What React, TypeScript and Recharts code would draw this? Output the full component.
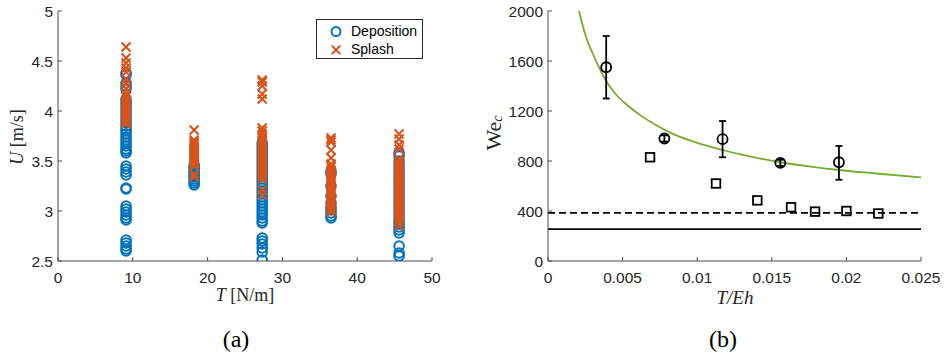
import React from "react";
import {
  ScatterChart,
  ComposedChart,
  Scatter,
  Line,
  XAxis,
  YAxis,
  ReferenceLine,
  ErrorBar,
  Legend,
} from "recharts";

const SANS = '"Liberation Sans", Arial, sans-serif';
const SERIF = '"Liberation Serif", "Times New Roman", serif';
const TEXT = "#262626";
const AXIS = "#4d4d4d";
const BLUE = "#0072BD";
const ORANGE = "#D95319";
const GREEN = "#77AC30";

// (a) U against T, one column of drops per membrane tension
const tensionColumns = [9.1, 18.2, 27.3, 36.5, 45.6];

const depositionU = [
  [4.38, 4.36, 4.28, 4.25, 4.22, 4.12, 4.09, 4.06, 4.03, 4.0, 3.97, 3.94, 3.91, 3.88, 3.85, 3.82, 3.8, 3.77, 3.74, 3.71, 3.68, 3.65, 3.62, 3.6, 3.58, 3.45, 3.42, 3.39, 3.36, 3.23, 3.22, 3.05, 3.02, 2.99, 2.96, 2.93, 2.91, 2.71, 2.68, 2.65, 2.62, 2.6],
  [3.46, 3.44, 3.42, 3.4, 3.38, 3.36, 3.34, 3.32, 3.3, 3.28, 3.26],
  [3.68, 3.65, 3.62, 3.59, 3.56, 3.53, 3.5, 3.47, 3.44, 3.41, 3.38, 3.35, 3.32, 3.29, 3.26, 3.23, 3.2, 3.17, 3.14, 3.11, 3.08, 3.05, 3.02, 2.99, 2.96, 2.93, 2.9, 2.88, 2.73, 2.7, 2.67, 2.63, 2.59, 2.51],
  [3.4, 3.37, 3.25, 3.15, 3.08, 3.04, 3.01, 2.98, 2.95, 2.93],
  [3.58, 3.55, 3.5, 3.46, 3.42, 3.38, 3.34, 3.3, 3.26, 3.22, 3.18, 3.14, 3.1, 3.06, 3.02, 2.98, 2.94, 2.9, 2.87, 2.84, 2.81, 2.78, 2.65, 2.58, 2.55],
];

const splashU = [
  [4.64, 4.53, 4.48, 4.43, 4.39, 4.32, 4.27, 4.22, 4.17, 4.14, 4.11, 4.09, 4.07, 4.05, 4.03, 4.01, 3.99, 3.97, 3.95, 3.93, 3.91, 3.89, 3.87],
  [3.81, 3.71, 3.69, 3.67, 3.65, 3.63, 3.61, 3.59, 3.57, 3.55, 3.53, 3.51, 3.49, 3.47, 3.45, 3.37, 3.34],
  [4.31, 4.29, 4.25, 4.17, 4.12, 3.83, 3.8, 3.77, 3.74, 3.71, 3.68, 3.65, 3.62, 3.59, 3.56, 3.53, 3.5, 3.47, 3.44, 3.41, 3.38, 3.35, 3.32, 3.21, 3.16],
  [3.73, 3.71, 3.69, 3.61, 3.53, 3.47, 3.44, 3.41, 3.38, 3.35, 3.32, 3.29, 3.26, 3.23, 3.2, 3.17, 3.14, 3.11, 3.08, 3.05, 3.02, 2.99],
  [3.77, 3.72, 3.66, 3.62, 3.52, 3.49, 3.46, 3.43, 3.4, 3.37, 3.34, 3.31, 3.28, 3.25, 3.22, 3.19, 3.16, 3.13, 3.1, 3.07, 3.04, 3.01, 2.98, 2.95, 2.92, 2.89, 2.85],
];

const tTicks = [0, 10, 20, 30, 40, 50];
const uTicks = [2.5, 3, 3.5, 4, 4.5, 5];

// (b) We_c against T/Eh
const ringX = [0.0039, 0.0078, 0.0117, 0.01557, 0.0195];
const ringWe = [1550, 980, 975, 785, 790];
const ringErrDown = [250, 25, 145, 25, 140];
const ringErrUp = [250, 25, 145, 25, 130];

const squareX = [0.00684, 0.01126, 0.01403, 0.01629, 0.0179, 0.02, 0.02214];
const squareWe = [830, 620, 485, 430, 395, 400, 380];

const fitX = [0.00208, 0.0025, 0.00304, 0.0035, 0.0039, 0.0045, 0.0053, 0.0062, 0.0072, 0.0084, 0.01, 0.0117, 0.0129, 0.014, 0.0156, 0.0175, 0.0195, 0.022, 0.025];
const fitWe = [2000, 1810, 1648, 1530, 1440, 1340, 1248, 1165, 1090, 1015, 945, 888, 853, 825, 790, 757, 728, 700, 669];

const dashedWe = 385;
const solidWe = 255;

const ratioTicks = [0, 0.005, 0.01, 0.015, 0.02, 0.025];
const weTicks = [0, 400, 800, 1200, 1600, 2000];

const depositionPts = tensionColumns.flatMap((t, i) => depositionU[i].map((u) => ({ x: t, y: u })));
const splashPts = tensionColumns.flatMap((t, i) => splashU[i].map((u) => ({ x: t, y: u })));
const ringPts = ringX.map((x, i) => ({ x, y: ringWe[i], err: [ringErrDown[i], ringErrUp[i]] }));
const squarePts = squareX.map((x, i) => ({ x, y: squareWe[i] }));
const fitPts = fitX.map((x, i) => ({ x, y: fitWe[i] }));

const tickStyle = { fill: TEXT, fontSize: 15.5, fontFamily: SANS };
const EmptyTick = () => <g />;

const BlueRing = (p: any) => (
  <circle cx={p.cx} cy={p.cy} r={4.8} fill="none" stroke={BLUE} strokeWidth={2} />
);

const OrangeCross = (p: any) => {
  const s = 4.5;
  return (
    <path
      d={`M${p.cx - s},${p.cy - s}L${p.cx + s},${p.cy + s}M${p.cx - s},${p.cy + s}L${p.cx + s},${p.cy - s}`}
      stroke={ORANGE}
      strokeWidth={2}
      fill="none"
    />
  );
};

const BlackRing = (p: any) => (
  <circle cx={p.cx} cy={p.cy} r={5} fill="none" stroke="#000" strokeWidth={1.8} />
);

const BlackSquare = (p: any) => (
  <rect x={p.cx - 4.3} y={p.cy - 4.3} width={8.6} height={8.6} fill="none" stroke="#000" strokeWidth={1.8} />
);

const LegendBox = () => (
  <div
    style={{
      position: "relative",
      width: 107,
      height: 40,
      border: `1px solid ${TEXT}`,
      background: "#fff",
      boxSizing: "border-box",
      fontFamily: SANS,
      fontSize: 14,
      color: "#000",
    }}
  >
    <svg width={20} height={40} style={{ position: "absolute", left: 9, top: 0 }}>
      <circle cx={10} cy={11.5} r={4.5} fill="none" stroke={BLUE} strokeWidth={2} />
      <path d="M5.8,25.6L14.2,34M5.8,34L14.2,25.6" stroke={ORANGE} strokeWidth={2} fill="none" />
    </svg>
    <span style={{ position: "absolute", left: 34, top: 3 }}>Deposition</span>
    <span style={{ position: "absolute", left: 34, top: 21 }}>Splash</span>
  </div>
);

export default function App() {
  return (
    <div style={{ position: "absolute", left: 0, top: 0, width: 947, height: 355, background: "#fff" }}>
      <div style={{ position: "absolute", left: 0, top: 0 }}>
        <ScatterChart width={470} height={310} margin={{ top: 11, right: 38, bottom: 0, left: 0 }}>
          <XAxis
            type="number"
            dataKey="x"
            domain={[0, 50]}
            ticks={tTicks}
            interval={0}
            allowDataOverflow
            height={49}
            tickSize={-4}
            tickMargin={15}
            tick={tickStyle}
            axisLine={{ stroke: AXIS }}
            tickLine={{ stroke: AXIS }}
          />
          <XAxis
            xAxisId="top"
            orientation="top"
            type="number"
            dataKey="x"
            domain={[0, 50]}
            ticks={tTicks}
            interval={0}
            allowDataOverflow
            height={0}
            tickSize={-4}
            tick={EmptyTick}
            axisLine={{ stroke: AXIS }}
            tickLine={{ stroke: AXIS }}
          />
          <YAxis
            type="number"
            dataKey="y"
            domain={[2.5, 5]}
            ticks={uTicks}
            interval={0}
            allowDataOverflow
            width={58}
            tickSize={-4}
            tickMargin={9}
            tick={tickStyle}
            axisLine={{ stroke: AXIS }}
            tickLine={{ stroke: AXIS }}
          />
          <YAxis
            yAxisId="right"
            orientation="right"
            type="number"
            dataKey="y"
            domain={[2.5, 5]}
            ticks={uTicks}
            interval={0}
            allowDataOverflow
            width={0}
            tickSize={-4}
            tick={EmptyTick}
            axisLine={{ stroke: AXIS }}
            tickLine={{ stroke: AXIS }}
          />
          <Legend
            layout="vertical"
            align="center"
            verticalAlign="middle"
            content={LegendBox}
            wrapperStyle={{ left: 316, top: 19, width: 107, height: 40 }}
          />
          <Scatter name="Deposition" data={depositionPts} shape={BlueRing} isAnimationActive={false} />
          <Scatter name="Splash" data={splashPts} shape={OrangeCross} isAnimationActive={false} />
        </ScatterChart>
      </div>

      <div style={{ position: "absolute", left: 470, top: 0 }}>
        <ComposedChart width={477} height={310} margin={{ top: 11, right: 26, bottom: 0, left: 0 }}>
          <XAxis
            type="number"
            dataKey="x"
            domain={[0, 0.025]}
            ticks={ratioTicks}
            interval={0}
            allowDataOverflow
            height={49}
            tickSize={-4}
            tickMargin={15}
            tick={tickStyle}
            axisLine={{ stroke: AXIS }}
            tickLine={{ stroke: AXIS }}
          />
          <XAxis
            xAxisId="top"
            orientation="top"
            type="number"
            dataKey="x"
            domain={[0, 0.025]}
            ticks={ratioTicks}
            interval={0}
            allowDataOverflow
            height={0}
            tickSize={-4}
            tick={EmptyTick}
            axisLine={{ stroke: AXIS }}
            tickLine={{ stroke: AXIS }}
          />
          <YAxis
            type="number"
            dataKey="y"
            domain={[0, 2000]}
            ticks={weTicks}
            interval={0}
            allowDataOverflow
            width={78}
            tickSize={-4}
            tickMargin={9}
            tick={tickStyle}
            axisLine={{ stroke: AXIS }}
            tickLine={{ stroke: AXIS }}
          />
          <YAxis
            yAxisId="right"
            orientation="right"
            type="number"
            dataKey="y"
            domain={[0, 2000]}
            ticks={weTicks}
            interval={0}
            allowDataOverflow
            width={0}
            tickSize={-4}
            tick={EmptyTick}
            axisLine={{ stroke: AXIS }}
            tickLine={{ stroke: AXIS }}
          />
          <ReferenceLine y={solidWe} stroke="#000" strokeWidth={1.6} />
          <ReferenceLine y={dashedWe} stroke="#000" strokeWidth={1.6} strokeDasharray="7 4" />
          <Line
            data={fitPts}
            dataKey="y"
            type="monotone"
            stroke={GREEN}
            strokeWidth={1.8}
            dot={false}
            isAnimationActive={false}
          />
          <Scatter data={squarePts} shape={BlackSquare} isAnimationActive={false} />
          <Scatter data={ringPts} shape={BlackRing} isAnimationActive={false}>
            <ErrorBar dataKey="err" direction="y" width={3.5} stroke="#000" strokeWidth={1.8} />
          </Scatter>
        </ComposedChart>
      </div>

      <svg
        width={947}
        height={355}
        style={{ position: "absolute", left: 0, top: 0, pointerEvents: "none" }}
        fontFamily={SERIF}
      >
        <text x={245} y={295} textAnchor="middle" dominantBaseline="central" fontSize={18} fill={TEXT}>
          <tspan fontStyle="italic">T</tspan> [N/m]
        </text>
        <text
          x={17}
          y={137}
          textAnchor="middle"
          dominantBaseline="central"
          fontSize={18}
          fill={TEXT}
          transform="rotate(-90 17 137)"
        >
          <tspan fontStyle="italic">U</tspan> [m/s]
        </text>
        <text x={735} y={297} textAnchor="middle" dominantBaseline="central" fontSize={19} fill={TEXT} fontStyle="italic">
          T/Eh
        </text>
        <text
          x={493}
          y={133}
          textAnchor="middle"
          dominantBaseline="central"
          fontSize={22}
          fill={TEXT}
          transform="rotate(-90 493 133)"
        >
          We
          <tspan fontSize={14} fontStyle="italic" dy={4}>
            c
          </tspan>
        </text>
        <text x={236} y={339} textAnchor="middle" dominantBaseline="central" fontSize={24} fill="#000">
          (a)
        </text>
        <text x={723} y={339} textAnchor="middle" dominantBaseline="central" fontSize={24} fill="#000">
          (b)
        </text>
      </svg>
    </div>
  );
}
